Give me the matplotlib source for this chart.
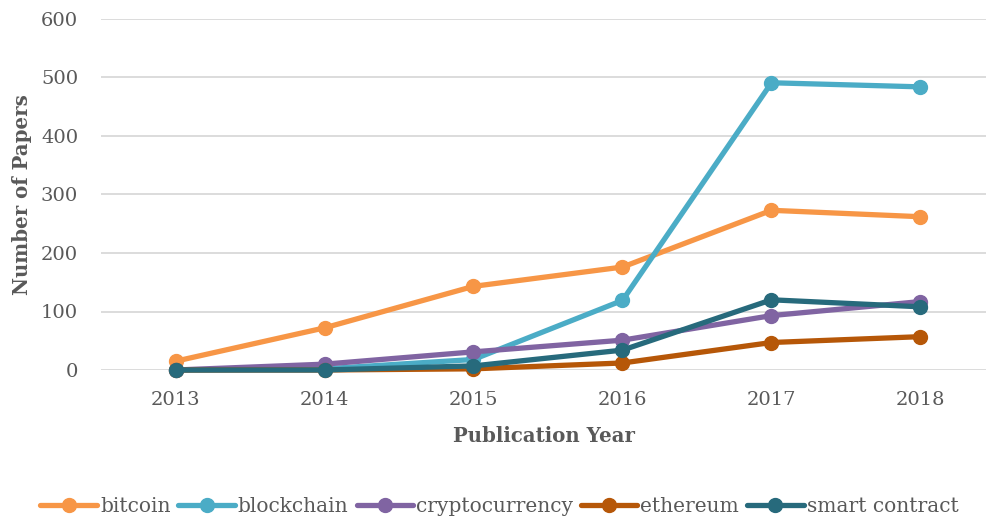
import matplotlib
matplotlib.use("Agg")
import matplotlib.pyplot as plt

years = ["2013", "2014", "2015", "2016", "2017", "2018"]
bitcoin = [15, 72, 143, 176, 273, 262]
blockchain = [0, 2, 18, 119, 491, 484]
cryptocurrency = [0, 10, 31, 51, 93, 117]
ethereum = [0, 0, 2, 12, 47, 57]
smart_contract = [0, 0, 7, 34, 120, 108]

series = [
    ("bitcoin", bitcoin, "#F79646"),
    ("blockchain", blockchain, "#4BACC6"),
    ("cryptocurrency", cryptocurrency, "#8064A2"),
    ("ethereum", ethereum, "#B65708"),
    ("smart contract", smart_contract, "#276A7C"),
]

plt.rcParams['font.family'] = ['DejaVu Serif']
fig = plt.figure(figsize=(9.87, 5.23), dpi=100)
W, H = 987, 523
left, right, top, bottom = 101, 987, 19, 370
ax = fig.add_axes([left / W, (H - bottom) / H, (right - left) / W, (bottom - top) / H])

x = list(range(len(years)))
for name, vals, col in series:
    ax.plot(x, vals, color=col, lw=3.8, marker='o', ms=10, label=name,
            solid_capstyle='round', clip_on=False, zorder=3)

ax.set_ylim(0, 600)
ax.set_yticks(range(0, 601, 100))
ax.set_xlim(-0.5, -0.5 + (right - left) / 149.0)
ax.set_xticks(x)
ax.set_xticklabels(years)
ax.grid(axis='y', color='#D9D9D9', lw=1.3)
ax.set_axisbelow(True)
for s in ax.spines.values():
    s.set_visible(False)
ax.tick_params(length=0, labelsize=14, colors='#595959')
ax.tick_params(axis='x', pad=15)
ax.tick_params(axis='y', pad=16.5)
ax.set_xlabel("Publication Year", fontsize=14.2, fontweight='bold', color='#595959', labelpad=12)
ax.set_ylabel("Number of Papers", fontsize=14.2, fontweight='bold', color='#595959', labelpad=6)

leg = fig.legend(loc='center', bbox_to_anchor=(0.506, (H - 507) / H),
                 ncol=5, frameon=False, fontsize=14.5, handlelength=2.8,
                 columnspacing=0.4, handletextpad=0.15, labelcolor='#595959')

fig.savefig("out.png", dpi=100)
